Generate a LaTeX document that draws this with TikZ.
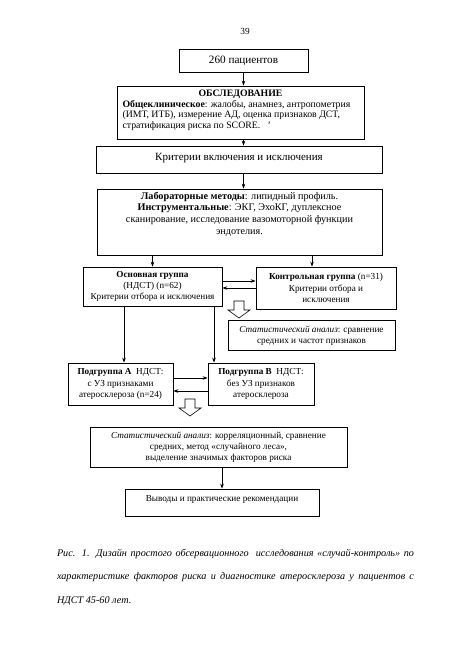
\documentclass[tikz,border=0pt]{standalone}
\usepackage{fontspec}
\setmainfont{Liberation Serif}
\usetikzlibrary{positioning,arrows.meta}

\begin{document}
\begin{tikzpicture}[
    x=1pt, y=-1pt,
    box/.style={rectangle, draw, line width=0.7pt, align=center, inner sep=2pt, font=\fontsize{10.2}{11.7}\selectfont},
    small/.style={box, font=\fontsize{9.2}{11.2}\selectfont},
    arrow/.style={-{Stealth[length=5pt,width=3.5pt]}, line width=0.6pt},
    hollow/.pic={\draw[line width=0.6pt, fill=white] (-5,0) -- (5,0) -- (5,9) -- (11,9) -- (0,17) -- (-11,9) -- (-5,9) -- cycle;},
]
\useasboundingbox (0,0) rectangle (459,650);

% page number
\node[font=\fontsize{9.3}{11}\selectfont] (page) at (245,31) {39};

% upper blocks
\node[box, minimum width=129pt, minimum height=23pt, font=\fontsize{11.2}{13}\selectfont] (pat) at (243.5,60.5) {260 пациентов};
\node[box, align=left, inner xsep=5.5pt, minimum height=53pt, text depth=6pt, font=\fontsize{9.8}{10.5}\selectfont] (exam) at (240.5,112.5)
    {\makebox[236pt]{\textbf{ОБСЛЕДОВАНИЕ}}\\\textbf{Общеклиническое}: жалобы, анамнез, антропометрия\\(ИМТ, ИТБ), измерение АД, оценка признаков ДСТ,\\стратификация риска по SCORE.~~~'};
\node[box, minimum width=286pt, minimum height=27pt, text depth=6pt, font=\fontsize{11}{13}\selectfont] (crit) at (239,159.5) {Критерии включения и исключения};
\node[box, minimum width=285pt, minimum height=66pt, text depth=18pt] (lab) at (239.5,222)
    {\textbf{Лабораторные методы}: липидный профиль.\\\textbf{Инструментальные}: ЭКГ, ЭхоКГ, дуплексное\\сканирование, исследование вазомоторной функции\\эндотелия.};

% groups
\node[small, minimum width=139pt, minimum height=39pt] (main) at (152.5,286.5)
    {\textbf{Основная группа}\\(НДСТ) (n=62)\\Критерии отбора и исключения};
\node[small, minimum width=140pt, minimum height=42pt] (ctrl) at (326,288)
    {\textbf{Контрольная группа} (n=31)\\Критерии отбора и\\исключения};
\node[small, minimum width=167pt, minimum height=30pt] (stat1) at (311.5,335.5)
    {\textit{Статистический анализ}: сравнение\\средних и частот признаков};

% subgroups
\node[small, minimum width=105pt, minimum height=42pt] (subA) at (120.5,384)
    {\textbf{Подгруппа А}~ НДСТ:\\с УЗ признаками\\атеросклероза (n=24)};
\node[small, minimum width=106pt, minimum height=42pt] (subB) at (261,384)
    {\textbf{Подгруппа В}~ НДСТ:\\без УЗ признаков\\атеросклероза};
\node[small, minimum width=257pt, minimum height=40pt] (stat2) at (218.5,447)
    {\textit{Статистический анализ}: корреляционный, сравнение\\средних, метод «случайного леса»,\\выделение значимых факторов риска};
\node[small, minimum width=194pt, minimum height=27pt, text depth=9pt] (concl) at (222,502.5)
    {Выводы и практические рекомендации};

% caption
\node[align=left, inner sep=0pt, font=\itshape\fontsize{10.2}{23.5}\selectfont] (cap) at (235.5,577)
    {\hbox to 357pt{Рис. 1. Дизайн простого обсервационного \ исследования «случай-контроль» по}\\
     \hbox to 357pt{характеристике факторов риска и диагностике атеросклероза у пациентов с}\\
     НДСТ 45-60 лет.};

% arrows
\draw[arrow] (pat.south) -- (pat.south |- exam.north);
\draw[arrow] (pat.south |- exam.south) -- (pat.south |- crit.north);
\draw[arrow] (pat.south |- crit.south) -- (pat.south |- lab.north);
\draw[arrow] (main.north |- lab.south) -- (main.north);
\draw[arrow] ([xshift=-14pt]ctrl.north |- lab.south) -- ([xshift=-14pt]ctrl.north);
\draw[arrow] ([yshift=5.5pt]main.east) -- ([yshift=5.5pt]main.east -| ctrl.west);
\draw[arrow] ([yshift=-1.5pt]main.east -| ctrl.west) -- ([yshift=-1.5pt]main.east);
\draw[arrow] ([xshift=-28.5pt]main.south) -- ([xshift=-28.5pt]main.south |- subA.north);
\draw[arrow] ([xshift=61.5pt]main.south) -- ([xshift=61.5pt]main.south |- subB.north);
\draw[arrow] ([yshift=6pt]subA.east) -- ([yshift=6pt]subA.east -| subB.west);
\draw[arrow] ([yshift=-7pt]subA.east -| subB.west) -- ([yshift=-7pt]subA.east);
\draw[arrow] (concl.north |- stat2.south) -- (concl.north);

% hollow arrows
\pic (h1) at (239,301) {hollow};
\pic (h2) at (190,399) {hollow};

\end{tikzpicture}
\end{document}
